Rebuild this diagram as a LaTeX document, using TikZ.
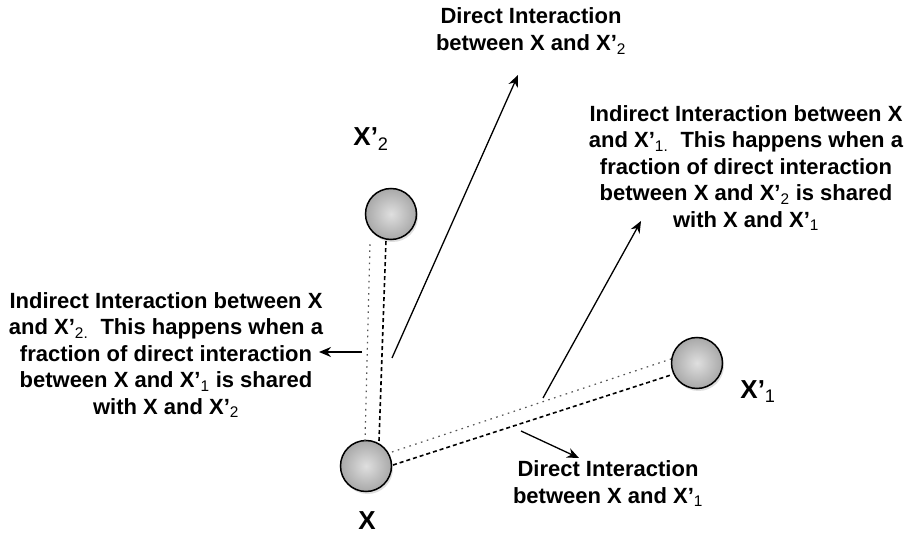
\documentclass[tikz,border=0pt]{standalone}
\usepackage{fontspec}
\setmainfont{Liberation Sans}
\usetikzlibrary{arrows.meta,shadows}
\begin{document}
\begin{tikzpicture}[x=1pt,y=-1pt,
  ball/.style={circle, draw=black, line width=1.5pt, minimum size=51pt, inner sep=0pt,
    inner color=gray!25, outer color=gray!68,
    drop shadow={opacity=0.25, shadow xshift=1.5pt, shadow yshift=-2.5pt}},
  txt/.style={font=\fontsize{22}{26.5}\selectfont\bfseries, align=center, inner sep=0pt},
  lab/.style={font=\fontsize{26}{30}\selectfont\bfseries, inner sep=0pt},
  arr/.style={line width=1.3pt, -{Stealth[length=12pt,width=10pt]}},
  dotline/.style={draw=gray!65!black, line width=1.2pt, dash pattern=on 1.6pt off 4.5pt},
  dashline/.style={draw=black, line width=1.6pt, dash pattern=on 4pt off 3pt}]
\useasboundingbox (0,0) rectangle (919,537);
\fill[white] (0,0) rectangle (919,537);

% balls
\node[ball] (x)  at (366,466) {};
\node[ball] (x2) at (391,214) {};
\node[ball] (x1) at (697,363) {};

% labels
\node[lab] (lx)  at (367,521) {X};
\node[lab] (lx2) at (371,139) {X'\textsubscript{\mdseries 2}};
\node[lab] (lx1) at (758,392) {X'\textsubscript{\mdseries 1}};

% dotted / dashed links
\coordinate (a1) at (365,441); \coordinate (a2) at (370,244);
\coordinate (b1) at (379,441); \coordinate (b2) at (386,240);
\coordinate (c1) at (392,452); \coordinate (c2) at (671,359);
\coordinate (d1) at (393,465); \coordinate (d2) at (671,375);
\draw[dotline]  (a1) -- (a2);
\draw[dashline] (b1) -- (b2);
\draw[dotline]  (c1) -- (c2);
\draw[dashline] (d1) -- (d2);

% texts
\node[txt] (tdir2) at (531,31) {Direct Interaction\\between X and X'\textsubscript{\mdseries 2}};
\node[txt] (tind1) at (746,168) {Indirect Interaction between X\\and X'\textsubscript{\mdseries 1.}\ \ This happens when a\\fraction of direct interaction\\between X and X'\textsubscript{\mdseries 2} is shared\\with X and X'\textsubscript{\mdseries 1}};
\node[txt] (tind2) at (166,355) {Indirect Interaction between X\\and X'\textsubscript{\mdseries 2.}\ \ This happens when a\\fraction of direct interaction\\between X and X'\textsubscript{\mdseries 1} is shared\\with X and X'\textsubscript{\mdseries 2}};
\node[txt] (tdir1) at (608,484) {Direct Interaction\\between X and X'\textsubscript{\mdseries 1}};

% arrows
\coordinate (e1) at (392,358); \coordinate (e2) at (518,75);
\coordinate (f1) at (362,352); \coordinate (f2) at (319,352);
\coordinate (g1) at (543,398); \coordinate (g2) at (641,221);
\coordinate (h1) at (521,431); \coordinate (h2) at (579,458);
\draw[arr] (e1) -- (e2);
\draw[arr] (f1) -- (f2);
\draw[arr] (g1) -- (g2);
\draw[arr] (h1) -- (h2);
\end{tikzpicture}
\end{document}
